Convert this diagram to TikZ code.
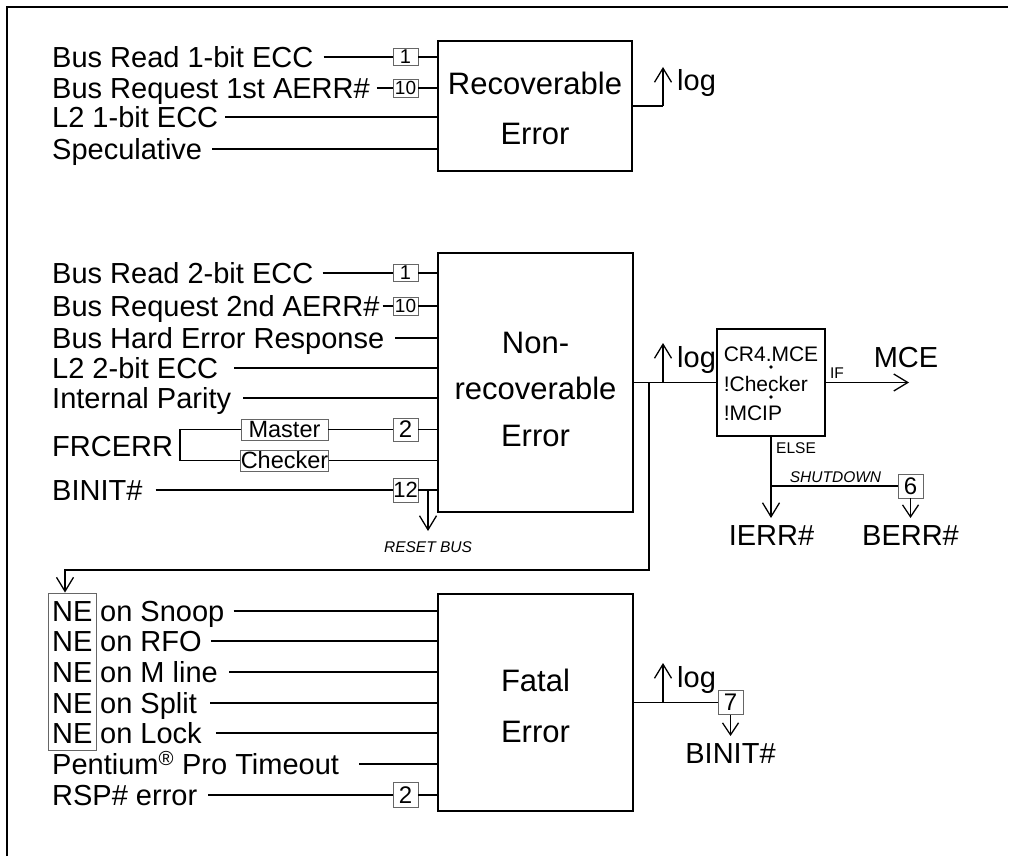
\documentclass[tikz,border=0pt]{standalone}
\usepackage{fontspec}
\setmainfont{Liberation Sans}
\usetikzlibrary{arrows.meta}
\begin{document}
\begin{tikzpicture}[x=1pt,y=-1pt,
  ln/.style={line width=1.3pt},
  arr/.style={line width=1.3pt,-{Straight Barb[length=14pt,width=17pt]}},
  sarr/.style={line width=1.3pt,-{Straight Barb[length=12pt,width=16pt]}},
  lbl/.style={anchor=west,inner sep=0pt,font=\fontsize{29}{34}\selectfont,text height=20.8pt,text depth=0pt},
  small/.style={inner sep=0pt,font=\fontsize{15.5}{16}\selectfont,text height=11pt,text depth=0pt},
  blk/.style={draw,line width=1.3pt,inner sep=0pt,align=center,text depth=0pt},
  num/.style={draw=black!60,line width=0.9pt,inner sep=0pt,minimum width=25pt,font=\fontsize{24}{24}\selectfont},
  sbox/.style={draw=black!60,line width=0.9pt,inner sep=0pt,minimum width=87pt,minimum height=21pt,font=\fontsize{23.5}{24}\selectfont}
]
\useasboundingbox (0,0) rectangle (1011,856);
% frame
\draw[ln] (7,856) -- (7,7) -- (1008,7);

% ---------------- Recoverable
\node[blk,minimum width=194pt,minimum height=130pt,text height=76pt,font=\fontsize{31}{50}\selectfont] (rec) at (535,106) {Recoverable\\Error};
\node[lbl] (r1) at (52,57) {Bus Read 1-bit ECC};
\node[num,minimum height=17pt,font=\fontsize{20}{20}\selectfont] (r1n) at (405.5,57) {1};
\draw[ln] ([xshift=10pt]r1.east) -- (r1n.west);
\draw[ln] (r1n.east) -- (r1n.east -| rec.west);
\node[lbl] (r2) at (52,88) {Bus Request 1st AERR\#};
\node[num,minimum height=18pt,font=\fontsize{19}{19}\selectfont] (r2n) at (405.5,88) {10};
\draw[ln] ([xshift=7pt]r2.east) -- (r2n.west);
\draw[ln] (r2n.east) -- (r2n.east -| rec.west);
\node[lbl] (r3) at (52,117) {L2 1-bit ECC};
\draw[ln] ([xshift=7pt]r3.east) -- (r3.east -| rec.west);
\node[lbl] (r4) at (52,149) {Speculative};
\draw[ln] ([xshift=10pt]r4.east) -- (r4.east -| rec.west);
\coordinate (rlog) at (663,106);
\coordinate (rlogtip) at (663,67);
\draw[ln] (rec.east) -- (rlog);
\draw[arr] (rlog) -- (rlogtip);
\node[lbl,anchor=base west] (rlogt) at (677,91) {log};

% ---------------- Non-recoverable
\node[blk,minimum width=195pt,minimum height=259pt,text height=127pt,font=\fontsize{31}{46.5}\selectfont] (nr) at (535.5,382.5) {Non-\\recoverable\\Error};
\node[lbl] (m1) at (52,273) {Bus Read 2-bit ECC};
\node[num,minimum height=17pt,font=\fontsize{20}{20}\selectfont] (m1n) at (405.5,273) {1};
\draw[ln] ([xshift=9pt]m1.east) -- (m1n.west);
\draw[ln] (m1n.east) -- (m1n.east -| nr.west);
\node[lbl] (m2) at (52,306) {Bus Request 2nd AERR\#};
\node[num,minimum height=18pt,font=\fontsize{19}{19}\selectfont] (m2n) at (405.5,306) {10};
\draw[ln] ([xshift=3pt]m2.east) -- (m2n.west);
\draw[ln] (m2n.east) -- (m2n.east -| nr.west);
\node[lbl] (m3) at (52,338) {Bus Hard Error Response};
\draw[ln] ([xshift=11pt]m3.east) -- (m3.east -| nr.west);
\node[lbl] (m4) at (52,368) {L2 2-bit ECC};
\draw[ln] ([xshift=16pt]m4.east) -- (m4.east -| nr.west);
\node[lbl] (m5) at (52,398) {Internal Parity};
\draw[ln] ([xshift=12pt]m5.east) -- (m5.east -| nr.west);
\node[lbl] (frc) at (52,446) {FRCERR};
\node[sbox] (mst) at (284.5,429.5) {Master};
\node[sbox] (chk) at (284.5,460.5) {Checker};
\coordinate (br1) at (180,429.5);
\coordinate (br2) at (180,460.5);
\draw[ln] (mst.west) -- (br1) -- (br2) -- (chk.west);
\node[num,minimum height=23pt] (m6n) at (405.5,429.5) {2};
\draw[ln] (mst.east) -- (m6n.west);
\draw[ln] (m6n.east) -- (m6n.east -| nr.west);
\draw[ln] (chk.east) -- (chk.east -| nr.west);
\node[lbl] (bi) at (52,490) {BINIT\#};
\node[num,minimum height=24pt,font=\fontsize{22}{22}\selectfont] (m7n) at (405.5,490) {12};
\draw[ln] ([xshift=13pt]bi.east) -- (m7n.west);
\draw[ln] (m7n.east) -- (m7n.east -| nr.west);
\coordinate (rbs) at (428,490);
\coordinate (rbe) at (428,531);
\draw[arr] (rbs) -- (rbe);
\node[small,font=\fontsize{15.5}{16}\selectfont\itshape] (rbt) at (428,547) {RESET BUS};

% check box
\node[blk,minimum width=108pt,minimum height=107pt,align=left,text height=76pt,font=\fontsize{21}{29.5}\selectfont] (cr) at (771,382.5) {CR4.MCE\\!Checker\\!MCIP};
\fill (771,367) circle (1.8pt);
\fill (771,397) circle (1.8pt);
\draw[ln] (nr.east) -- (cr.west);
\coordinate (mlog) at (663,382.5);
\coordinate (mlogtip) at (663,343);
\draw[arr] (mlog) -- (mlogtip);
\node[lbl,anchor=base west] (mlogt) at (677,367) {log};
\coordinate (mcetip) at (909,382.5);
\draw[arr] (cr.east) -- (mcetip);
\node[small] (ift) at (837,373) {IF};
\node[lbl,anchor=center] (mce) at (906,357) {MCE};
\coordinate (ej) at (771,486);
\coordinate (etip) at (771,518);
\draw[arr] (cr.south) -- (etip);
\node[small,anchor=west] (els) at (776,448) {ELSE};
\node[num,minimum height=24pt] (b6) at (910.5,486) {6};
\draw[ln] (ej) -- (b6.west);
\node[small,font=\fontsize{15.5}{16}\selectfont\itshape] (sd) at (835.5,477) {SHUTDOWN};
\coordinate (b6tip) at (910.5,518);
\draw[sarr] (b6.south) -- (b6tip);
\node[lbl,anchor=center] (ierr) at (771.5,535) {IERR\#};
\node[lbl,anchor=center] (berr) at (910.5,535) {BERR\#};

% return path
\coordinate (mret) at (649,382.5);
\coordinate (rt1) at (649,570);
\coordinate (rt2) at (65,570);

% ---------------- Fatal
\node[blk,minimum width=195pt,minimum height=217pt,text height=79pt,font=\fontsize{31}{51}\selectfont] (fat) at (535.5,702.5) {Fatal\\Error};
\node[draw=black!60,line width=0.9pt,minimum width=48pt,minimum height=157pt,inner sep=0pt] (ne) at (72,671.5) {};
\draw[arr] (mret) -- (rt1) -- (rt2) -- (rt2 |- ne.north);
\node[lbl] (ne1) at (52,611) {NE};
\node[lbl] (ne2) at (52,641) {NE};
\node[lbl] (ne3) at (52,672) {NE};
\node[lbl] (ne4) at (52,703) {NE};
\node[lbl] (ne5) at (52,733) {NE};
\node[lbl] (f1) at (100,611) {on Snoop};
\draw[ln] ([xshift=9pt]f1.east) -- (f1.east -| fat.west);
\node[lbl] (f2) at (100,641) {on RFO};
\draw[ln] ([xshift=9pt]f2.east) -- (f2.east -| fat.west);
\node[lbl] (f3) at (100,672) {on M line};
\draw[ln] ([xshift=11pt]f3.east) -- (f3.east -| fat.west);
\node[lbl] (f4) at (100,703) {on Split};
\draw[ln] ([xshift=13pt]f4.east) -- (f4.east -| fat.west);
\node[lbl] (f5) at (100,733) {on Lock};
\draw[ln] ([xshift=14pt]f5.east) -- (f5.east -| fat.west);
\node[lbl] (f6) at (52,764) {Pentium\textsuperscript{\textregistered} Pro Timeout};
\draw[ln] ([xshift=20pt]f6.east) -- (f6.east -| fat.west);
\node[lbl] (f7) at (52,795) {RSP\# error};
\node[num,minimum height=25pt] (f7n) at (405.5,795) {2};
\draw[ln] ([xshift=11pt]f7.east) -- (f7n.west);
\draw[ln] (f7n.east) -- (f7n.east -| fat.west);
\node[num,minimum height=24pt] (b7) at (730.5,702.5) {7};
\draw[ln] (fat.east) -- (b7.west);
\coordinate (flog) at (663,702.5);
\coordinate (flogtip) at (663,663);
\draw[arr] (flog) -- (flogtip);
\node[lbl,anchor=base west] (flogt) at (677,687) {log};
\coordinate (b7tip) at (730.5,736);
\draw[sarr] (b7.south) -- (b7tip);
\node[lbl,anchor=center] (bin2) at (730.5,753) {BINIT\#};
\end{tikzpicture}
\end{document}
